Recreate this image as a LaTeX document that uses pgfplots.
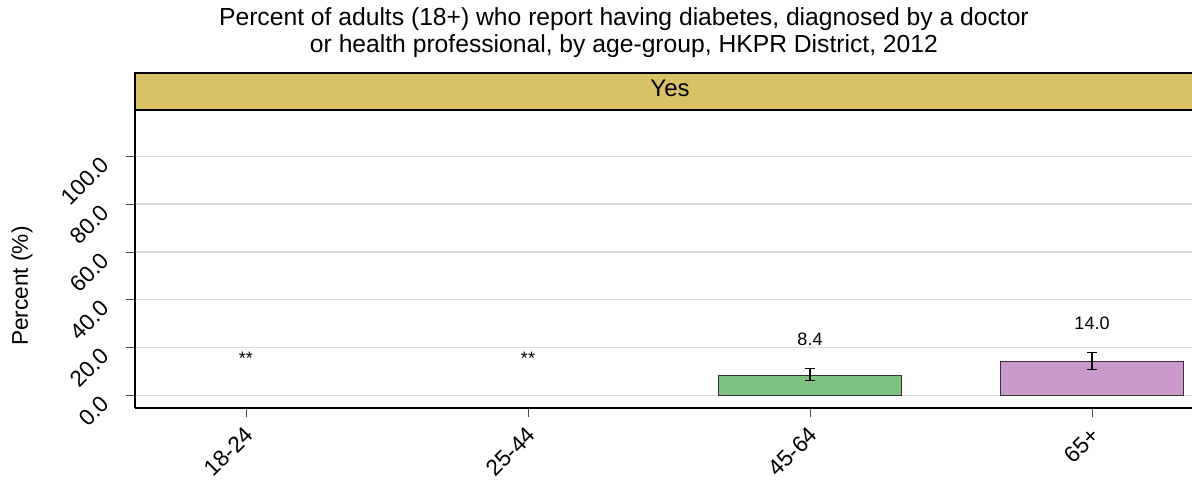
\documentclass[border=0pt]{standalone}
\usepackage{pgfplots}
\pgfplotsset{compat=1.18}
\usepackage{fontspec}
\setmainfont{Liberation Sans}

\definecolor{stripgold}{RGB}{217,194,102}
\definecolor{bargreen}{RGB}{127,193,129}
\definecolor{barpurple}{RGB}{204,153,204}

\begin{document}
\begin{tikzpicture}
  \begin{axis}[
    name=main,
    at={(0,0)}, anchor=south west,
    scale only axis,
    width=792.75pt, height=223.5pt,
    xmin=0.6064, xmax=4.3546,
    ymin=-5.31, ymax=119.4,
    axis x line*=bottom,
    axis y line*=left,
    x axis line style={line width=2pt},
    y axis line style={line width=0.8pt},
    xtick={1,2,3,4},
    xticklabels={18-24,25-44,45-64,65+},
    ytick={0,20,40,60,80,100},
    tick align=outside,
    major tick length=7pt,
    tick style={color=black!70, line width=0.6pt},
    ymajorgrids,
    grid style={color=black!14, line width=1.1pt},
    yticklabel style={/pgf/number format/fixed, /pgf/number format/fixed zerofill,
      /pgf/number format/precision=1, /pgf/number format/assume math mode=true},
    ticklabel style={font=\fontsize{17}{19}\selectfont},
    yticklabel style={xshift=-13pt, yshift=-1pt, rotate=45, anchor=east},
    xticklabel style={yshift=-8pt, xshift=5pt, rotate=45, anchor=east},
    ylabel={Percent (\%)},
    ylabel style={font=\fontsize{17}{19}\selectfont, at={(axis description cs:-0.1069,0.409)}, anchor=center, rotate=0},
    title={Percent of adults (18+) who report having diabetes, diagnosed by a doctor\\or health professional, by age-group, HKPR District, 2012},
    title style={font=\fontsize{18.5}{20.25}\selectfont, align=center, at={(axis description cs:0.4626,1.2322)}, anchor=center},
    clip=false,
  ]
    % strip header
    \fill[stripgold] (axis description cs:0,1) rectangle (axis description cs:1.02,1.1242);
    \draw[line width=0.8pt] (axis description cs:1.02,1.1242) -- (axis description cs:0,1.1242) -- (axis description cs:0,1);
    \draw[line width=1.6pt] (axis description cs:0,1) -- (axis description cs:1.02,1);
    \node[font=\fontsize{18}{20}\selectfont] at (axis description cs:0.5062,1.0738) {Yes};

    \addplot[ybar, bar width=0.646, bar shift=0pt, fill=bargreen, draw=black!80, line width=0.8pt,
      error bars/.cd, y dir=both, y explicit,
      error bar style={line width=0.8pt, black},
      error mark options={line width=0.8pt, black, mark size=3.75pt, rotate=90}]
      table[x=x, y=y, y error plus=ep, y error minus=em] {
        x y ep em
        3 8.4 2.9 2.3
      };
    \addplot[ybar, bar width=0.646, bar shift=0pt, fill=barpurple, draw=black!80, line width=0.8pt,
      error bars/.cd, y dir=both, y explicit,
      error bar style={line width=0.8pt, black},
      error mark options={line width=0.8pt, black, mark size=3.75pt, rotate=90}]
      table[x=x, y=y, y error plus=ep, y error minus=em] {
        x y ep em
        4 14.0 4.0 3.3
      };
    % value labels
    \addplot[only marks, mark=none, nodes near coords, point meta=explicit symbolic,
      nodes near coords style={anchor=base, inner sep=0pt, font=\fontsize{13.5}{15}\selectfont}]
      table[x=x, y=y, meta=lab] {
        x y lab
        1 13.1 **
        2 13.1 **
        3 21.0 8.4
        4 27.4 14.0
      };
  \end{axis}
  \pgfresetboundingbox
  \useasboundingbox (-101.25pt,-60.75pt) rectangle (792.75pt,306pt);
\end{tikzpicture}
\end{document}
